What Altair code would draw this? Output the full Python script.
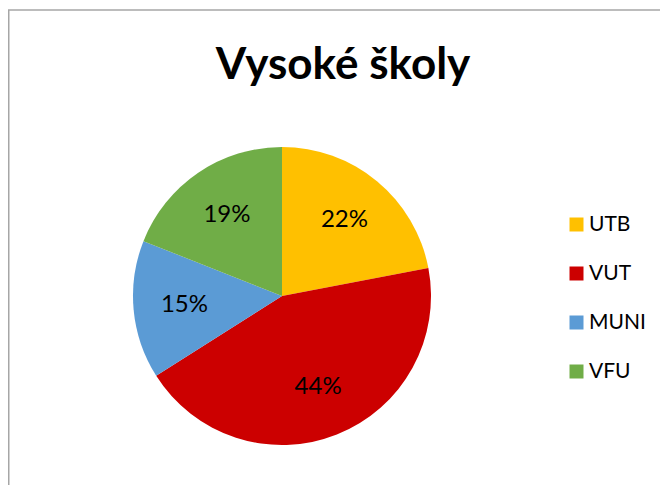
import altair as alt
import pandas as pd

schools = ["UTB", "VUT", "MUNI", "VFU"]
shares = [22, 44, 15, 19]
labels = ["22%", "44%", "15%", "19%"]
colors = ["#FFC000", "#CC0000", "#5B9BD5", "#70AD47"]

df = pd.DataFrame({
    "skola": schools,
    "podil": shares,
    "label": labels,
    "poradi": list(range(len(schools))),
})

W, H = 652, 477
CX, CY = 274, 288
R = 149
FONT = "Lato"

base = alt.Chart(df).encode(
    theta=alt.Theta("podil:Q", stack=True),
    order=alt.Order("poradi:Q", sort="ascending"),
)

pie = base.mark_arc(x=CX, y=CY, outerRadius=R).encode(
    color=alt.Color(
        "skola:N",
        scale=alt.Scale(domain=schools, range=colors),
        sort=schools,
        legend=alt.Legend(
            title=None,
            orient="none",
            legendX=558,
            legendY=206,
            symbolType="square",
            symbolSize=196,
            symbolStrokeWidth=0,
            symbolOpacity=1,
            labelFont=FONT,
            labelFontSize=21,
            labelColor="#000000",
            labelOffset=2,
            rowPadding=27,
        ),
    )
)

text = base.mark_text(
    x=CX, y=CY, radius=98, font=FONT, fontSize=24, color="#000000"
).encode(text="label:N")

frame_df = pd.DataFrame({"a": [0]})
top_line = alt.Chart(frame_df).mark_rule(color="#a6a6a6", strokeWidth=1.5).encode(
    x=alt.value(0), x2=alt.value(W), y=alt.value(2)
)
left_line = alt.Chart(frame_df).mark_rule(color="#a6a6a6", strokeWidth=1.5).encode(
    x=alt.value(0.75), y=alt.value(2), y2=alt.value(H)
)

chart = alt.layer(top_line, left_line, pie, text).properties(
    width=W,
    height=H,
    autosize=alt.AutoSizeParams(type="none"),
    padding=0,
    title=alt.TitleParams(
        "Vysoké školy",
        font=FONT,
        fontSize=44,
        fontWeight="bold",
        color="#000000",
        anchor="middle",
        baseline="alphabetic",
        offset=-115,
        dx=9,
    ),
).configure_view(stroke=None)

chart.save("out.html", embed_options={"renderer": "svg", "actions": False})
